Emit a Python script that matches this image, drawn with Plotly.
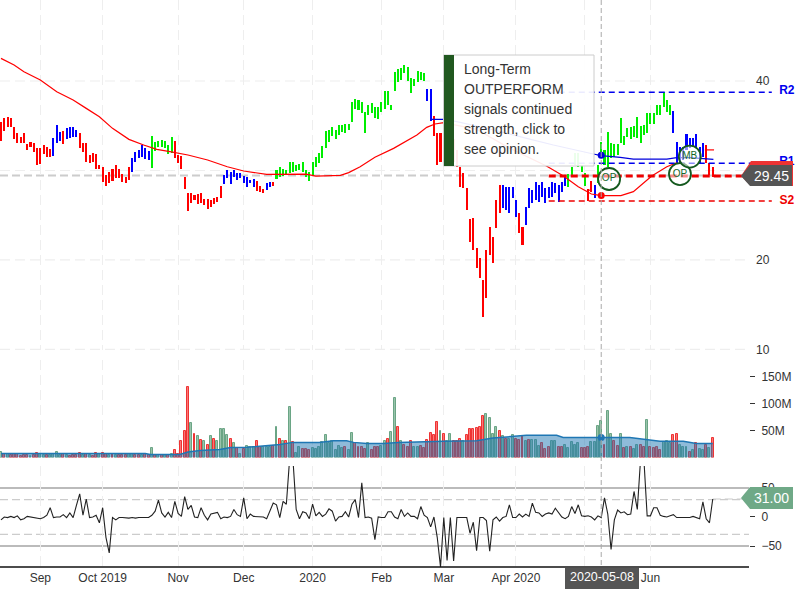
import plotly.graph_objects as go

# --- price bars (one per session, in dollars)
price_high = [
35.45,35.83,36.0,35.83,34.82,34.15,33.7,34.15,32.96,33.2,
33.03,32.47,32.47,32.85,32.66,32.36,33.59,35.08,34.34,34.41,
34.71,34.82,34.82,34.52,34.15,33.03,33.03,31.73,31.92,31.84,
30.61,30.43,29.5,29.87,30.13,30.61,30.13,29.6,29.31,30.35,
31.36,32.1,32.29,32.85,32.47,32.18,33.85,33.2,33.33,33.41,
33.33,32.85,33.78,33.29,31.73,31.62,29.23,27.45,27.45,27.26,
27.37,27.52,26.81,26.81,26.7,26.89,27.07,28.27,29.5,30.05,
29.87,30.05,29.68,29.68,29.38,29.31,28.94,29.01,28.82,28.27,
27.89,28.56,28.75,28.75,
30.05,30.43,30.17,30.05,30.91,30.91,30.61,30.72,30.91,30.05,
29.87,30.98,31.47,31.92,32.77,34.45,34.52,34.89,34.52,35.08,
35.08,35.19,35.19,37.69,37.99,37.87,37.69,36.57,37.32,37.5,
37.05,37.05,37.69,38.92,38.92,37.32,41.04,41.3,41.41,41.78,
41.52,40.29,40.18,41.15,41.04,40.93,
39.07,39.07,
36.09,34.15,34.22,34.15,34.15,35.27,33.5,32.29,30.42,29.76,28.0,
24.58,24.65,21.3,20.18,17.76,21.12,23.72,22.61,26.7,28.38,
28.38,28.19,28.19,28.19,26.7,
25.21,23.72,
25.96,28.0,27.82,28.75,28.38,28.75,28.0,28.19,28.75,28.56,28.38,28.75,29.5,
29.6,30.42,31.9,31.9,30.61,29.68,
27.89,28.86,
28.38,
30.61,33.2,32.29,34.34,33.03,32.92,32.92,35.9,33.85,34.71,34.89,34.97,36.01,
34.97,35.08,36.38,36.38,36.38,37.32,37.32,38.8,37.87,37.32,
36.68,33.2,32.66,32.66,34.07,33.59,33.59,34.07,32.66,33.03,
32.85,30.8,30.42]
price_low = [
33.33,34.41,34.82,34.82,33.52,33.03,33.03,33.03,32.29,32.66,
32.1,30.61,30.72,31.84,31.47,31.47,31.62,33.03,33.33,32.92,
33.48,33.59,33.78,33.7,32.47,32.1,30.98,30.8,30.98,30.13,
30.13,28.75,28.3,28.56,28.86,29.12,29.12,28.75,28.56,28.94,
29.79,30.98,31.36,31.47,31.24,31.17,30.24,32.18,32.59,32.66,
32.55,31.84,31.92,31.36,30.8,30.13,27.89,25.51,26.33,26.7,
26.26,26.4,26.14,25.66,25.88,26.26,26.52,26.96,28.45,29.12,
28.45,29.31,28.94,29.12,28.64,28.12,28.56,28.19,27.75,27.56,
27.52,27.82,28.1,28.27,
29.0,29.31,29.38,29.5,29.68,29.87,29.98,30.05,29.87,29.31,
28.86,29.38,30.35,30.8,31.36,32.47,33.2,33.85,33.52,33.96,
34.34,34.15,34.52,35.45,36.83,36.76,36.38,34.22,36.2,36.38,
35.83,35.71,36.57,36.83,37.32,36.76,38.92,39.92,40.1,40.93,
40.03,38.69,39.44,39.92,40.1,40.03,
37.8,35.57,
33.85,30.61,30.98,31.54,31.84,32.1,31.0,30.42,28.12,28.0,25.58,
22.05,21.12,19.07,17.95,13.67,15.7,20.56,19.7,23.54,25.21,
25.77,25.58,25.21,26.89,24.84,
22.98,21.67,
23.91,25.77,26.33,26.7,26.52,27.07,26.4,26.89,27.07,27.45,26.52,27.63,28.27,
28.12,29.31,30.6,30.42,29.87,28.27,
26.62,27.63,
26.89,
28.56,31.54,30.61,30.42,31.36,31.47,31.73,33.03,32.85,33.7,33.48,33.7,33.59,
33.11,33.96,34.15,35.19,35.19,36.2,36.2,37.13,36.57,36.2,
34.22,30.8,30.8,31.17,32.29,32.47,32.66,32.47,30.8,31.54,
30.8,29.5,29.31]
# signal state of each bar as (state, number of consecutive bars)
price_state_runs = [("R",16),("B",3),("R",1),("B",4),("R",16),("B",6),("G",7),("R",15),
                    ("B",10),("R",3),("B",2),("R",1),("G",46),("B",2),("R",21),("B",5),
                    ("R",2),("B",13),("G",6),("R",2),("B",1),("G",23),("B",10),("R",3)]
# the two short horizontal stops near the crosshair and the last bars
stop_idx = [178.7, 180.2, None, 214.6, 217.4]
stop_price = [27.8, 27.8, None, 32.3, 32.3]

# --- volume in millions of shares
volume = [
11,6,6,4,6,6,2,4,4,2,4,9,6,4,4,5,6,11,5,6,5,2,4,4,9,4,7,4,2,9,6,9,6,5,6,4,4,4,4,6,
6,4,4,5,6,4,17,4,4,4,5,5,7,13,7,30,50,131,63,43,39,33,31,24,39,35,31,52,52,41,
35,26,17,6,15,22,19,19,30,19,20,20,20,22,56,35,31,31,93,28,9,19,15,15,13,17,15,19,29,41,
26,31,13,22,17,19,13,46,26,19,19,15,26,13,20,19,22,30,35,48,111,57,
31,24,20,30,19,20,22,17,33,46,41,65,50,44,31,43,31,31,35,31,
41,52,52,54,57,76,81,74,44,56,50,39,35,35,41,35,33,39,31,33,
33,33,21,26,15,20,31,30,19,19,24,17,28,24,26,17,17,20,28,28,
59,67,24,87,44,30,22,44,17,19,20,15,24,24,19,70,19,17,19,13,
28,30,26,41,43,24,19,19,11,13,26,15,13,24,17,37]
volume_dir = ("GRGRRRRRRG" "RRGGRGGGGR" "GRRRRGRGRR" "GRRGRGRRRG" "GRRGRRGRGR"
              "GRGRRRRRGR" "GRGRGRGGGG" "RGRGRGGGRR" "GGGRGRGRGR" "GGRRRGGGGG"
              "GGGGGRGGRR" "RRGRRRGGRG" "GR"
              "GRRRGGRRRR" "RRGRGGRRRG" "RRRRRRGGGG" "RGRGGRRRGR" "GGGRRRGGRR"
              "GGGGGRRRGG" "GGRGGRRGRG" "RGGRRGRRRR" "GGGRRGGGRG" "RGGRGR")
volume_avg_idx = [0,44,45.5,54.5,57,60.7,66.7,70,75,80,85,89,97,101.3,105.4,107.5,111.5,116.6,121.2,
                  134.8,145,150,160.2,169.4,171.4,191.7,194.8,200.9,208,212,217]
volume_avg = [7.4,7.4,5.5,5.5,10,13,15,18.5,19,21.6,24,28,28,31,31,28,26,26,28,
              30,31,36,41,41,37,37,35,30,30,26,26]

# --- oscillator
oscillator = [
-5,0,-1,1,-1,2,-5,-3,1,0,-1,-1,-3,-1,3,16,-1,0,0,4,
-1,7,-1,20,40,3,31,-1,0,3,-10,16,-35,-62,-1,-5,-1,-1,-2,-2,
-1,-2,-1,-1,-2,-1,3,10,29,7,0,8,-1,27,6,1,35,13,20,0,
-1,16,3,-5,5,7,8,-3,0,-1,1,13,4,1,33,-3,5,1,1,1,
0,-3,10,24,21,-1,27,22,100,100,13,-3,9,7,-3,22,2,8,1,5,
14,10,-7,0,1,9,0,22,30,-1,59,-1,0,-2,-39,0,-1,-1,9,9,0,-3,
13,1,7,1,1,-3,18,3,-1,-17,0,-35,-86,-1,-75,-1,-76,-1,-1,-1,
-1,-28,-9,-58,-1,-1,-6,-59,-5,0,-7,-1,1,21,-1,-1,5,0,5,1,
24,8,7,1,5,7,5,15,7,0,-3,1,18,6,21,2,1,2,0,-5,
2,-1,33,5,-56,-5,12,7,9,4,5,44,13,100,100,2,2,16,16,3,
1,0,2,4,-1,-1,-1,-1,-1,1,-1,-3,26,-3,-10,31]

# --- moving averages (bar index, price)
ma_red_idx = [0,4,7,12,17,22,26,30,34,39,43.5,47.5,51.5,57,63,69,74,81,93,96,103.5,106,109.5,114,
              119.7,126.8,129.8,132.3,135,145,155,166.3,171.5,176,180,183,189,192.8,198.4,203,206]
ma_red = [42.53,41.78,41.04,40.11,38.8,37.87,36.94,36.01,34.71,33.48,32.85,32.36,32.1,31.73,31.17,
          30.42,29.94,29.57,29.6,29.38,29.46,29.76,30.42,31.47,32.47,33.96,34.82,35.19,35.34,
          34.6,32.5,30.5,29.38,28.19,27.37,27.19,27.19,27.63,29.38,30.42,30.87]
ma_blue_idx = [131.3,135,139,150.2,160.3,168.4,180.6,183,188.8,192.8,203,206,210.1,217.2]
ma_blue = [35.71,35.71,35.45,34.52,33.59,32.85,31.84,31.65,31.47,31.28,31.28,31.43,31.43,31.25]

# --- levels, signals, labels
level_r2, level_r1, level_s1, level_s2 = 38.73, 30.8, 29.38, 26.59
last_price, last_osc = 29.45, 31.0
signal_idx = [185.4, 207, 210]
signal_price = [29.05, 29.6, 31.55]
signal_text = ["OP", "OP", "MB"]
month_idx = [12, 31, 54, 74, 95, 116, 135, 157, 178, 198]
month_text = ["Sep", "Oct 2019", "Nov", "Dec", "2020", "Feb", "Mar", "Apr 2020", "", "Jun"]
volume_ticks = [50, 100, 150]
volume_tick_text = ["50M", "100M", "150M"]
cross_idx = 183
tip_lines = ["Long-Term", "OUTPERFORM", "signals continued", "strength, click to", "see opinion."]

FONT = "Liberation Sans"
W, H = 800.0, 600.0
def px(x): return x / W
def py(y): return 1 - y / H
def poly(points):
    return "M" + " L".join(f"{px(a):.5f},{py(b):.5f}" for a, b in points) + " Z"

state_colors = {"R": "#ff0000", "B": "#0000ff", "G": "#00ee00"}
price_colors = [state_colors[s] for s, n in price_state_runs for _ in range(n)]
idx = list(range(len(price_high)))

fig = go.Figure()

# price bars
fig.add_trace(go.Bar(x=idx, base=price_low, y=[h - l for h, l in zip(price_high, price_low)],
                     width=0.62, marker=dict(color=price_colors, line_width=0),
                     yaxis="y", xaxis="x"))
fig.add_trace(go.Scatter(x=stop_idx, y=stop_price, mode="lines", line=dict(color="#ff0000", width=1.2), yaxis="y"))
fig.add_trace(go.Scatter(x=ma_red_idx, y=ma_red, mode="lines", line=dict(color="#ff0000", width=1.2), yaxis="y"))
fig.add_trace(go.Scatter(x=ma_blue_idx, y=ma_blue, mode="lines", line=dict(color="#0000dd", width=1.2), yaxis="y"))

# levels
for val, end, color, width, dash in [(level_r2, 235, "#0000ee", 1.5, "6px,4px"),
                                     (level_r1, 235, "#0000ee", 1.5, "6px,4px"),
                                     (level_s1, 226, "#ee0000", 3, "7px,4px"),
                                     (level_s2, 235, "#ee0000", 1.5, "6px,4px")]:
    fig.add_trace(go.Scatter(x=[167, end], y=[val, val], mode="lines",
                             line=dict(color=color, width=width, dash=dash), yaxis="y"))
fig.add_trace(go.Scatter(x=[239.6, 239.6], y=[38.83, 30.95], mode="text", text=["R2", "R1"],
                         textfont=dict(color="#0000ee", size=12, family=FONT, weight="bold"),
                         yaxis="y", cliponaxis=False))
fig.add_trace(go.Scatter(x=[239.6], y=[26.6], mode="text", text=["S2"],
                         textfont=dict(color="#ee0000", size=12, family=FONT, weight="bold"),
                         yaxis="y", cliponaxis=False))

# signals
fig.add_trace(go.Scatter(x=signal_idx, y=signal_price, mode="markers+text", text=signal_text,
                         textposition="middle center", textfont=dict(color="#14682a", size=10, family=FONT),
                         marker=dict(size=22, color="rgba(255,255,255,0.55)", line=dict(color="#14591e", width=1.8)),
                         yaxis="y"))
fig.add_trace(go.Scatter(x=[cross_idx, cross_idx], y=[31.7, 27.2], mode="markers",
                         marker=dict(size=7, color=["#0000dd", "#ff0000"]), yaxis="y"))

# volume
vol_fill = {"R": "rgba(250,60,60,0.7)", "G": "rgba(110,170,135,0.7)"}
vol_line = {"R": "#ee3333", "G": "#6aa585"}
fig.add_trace(go.Bar(x=list(range(len(volume))), y=volume, width=0.6, yaxis="y2",
                     marker=dict(color=[vol_fill[d] for d in volume_dir],
                                 line=dict(color=[vol_line[d] for d in volume_dir], width=1))))
fig.add_trace(go.Scatter(x=volume_avg_idx, y=volume_avg, mode="lines", fill="tozeroy",
                         fillcolor="rgba(31,119,180,0.5)", line=dict(color="#1f77b4", width=1.5), yaxis="y2"))
fig.add_trace(go.Scatter(x=[cross_idx], y=[37], mode="markers", marker=dict(size=7, color="#1f77b4"), yaxis="y2"))

# oscillator
fig.add_trace(go.Scatter(x=list(range(len(oscillator))), y=oscillator, mode="lines",
                         line=dict(color="#222222", width=1.1), yaxis="y3"))

shapes = []
def hline(yref, val, color, width, dash, x1=749):
    shapes.append(dict(type="line", xref="paper", yref=yref, x0=0, x1=px(x1), y0=val, y1=val,
                       line=dict(color=color, width=width, dash=dash), layer="below"))
for v in (10, 20, 30, 40):
    hline("y", v, "#eeeeee", 1.2, "10px,5px")
hline("y", last_price, "#cccccc", 2, "8px,4px", 745)
hline("y3", 50, "#bbbbbb", 2, "solid")
hline("y3", -50, "#bbbbbb", 2, "solid")
hline("y3", 30, "#cccccc", 1.2, "8px,4px", 745)
hline("y3", -30, "#cccccc", 1.2, "8px,4px")
# x axis line
shapes.append(dict(type="line", xref="paper", yref="paper", x0=0, x1=px(749), y0=py(567), y1=py(567),
                   line=dict(color="#111111", width=1.5), layer="above"))
# crosshair
shapes.append(dict(type="line", xref="x", yref="paper", x0=cross_idx, x1=cross_idx, y0=py(0), y1=py(570),
                   line=dict(color="#aaaaaa", width=1, dash="5px,3px"), layer="above"))
# opinion pop-up
shapes.append(dict(type="rect", xref="paper", yref="paper", x0=px(443.5), x1=px(594), y0=py(55), y1=py(166),
                   fillcolor="rgba(255,255,255,0.92)", line=dict(color="#cccccc", width=1), layer="above"))
shapes.append(dict(type="rect", xref="paper", yref="paper", x0=px(444), x1=px(454), y0=py(55), y1=py(166),
                   fillcolor="rgba(26,83,25,0.97)", line_width=0, layer="above"))
# value tags
shapes.append(dict(type="path", xref="paper", yref="paper", layer="above", fillcolor="#ee3333", line_width=0,
                   path=poly([(741, 176), (751, 161), (793, 161), (793, 186), (751, 186)])))
shapes.append(dict(type="path", xref="paper", yref="paper", layer="above", fillcolor="#555555", line_width=0,
                   path=poly([(741, 176), (750, 165), (792, 165), (792, 186), (750, 186)])))
shapes.append(dict(type="path", xref="paper", yref="paper", layer="above", fillcolor="#6fa987", line_width=0,
                   path=poly([(741, 498), (750, 487), (793, 487), (793, 509), (750, 509)])))
shapes.append(dict(type="line", xref="x", yref="y3", x0=217, x1=229, y0=last_osc, y1=last_osc, layer="below",
                   line=dict(color="#cccccc", width=1.2, dash="8px,4px")))
# crosshair date box
shapes.append(dict(type="rect", xref="paper", yref="paper", x0=px(565), x1=px(639), y0=py(568), y1=py(589),
                   fillcolor="#555555", line_width=0, layer="above"))

annotations = []
for i, line in enumerate(tip_lines):
    annotations.append(dict(xref="paper", yref="paper", x=px(462), y=py(69 + 20 * i), text=line, showarrow=False,
                            xanchor="left", yanchor="middle", font=dict(family=FONT, size=14, color="#333333")))
annotations.append(dict(xref="paper", yref="paper", x=px(771), y=py(175.5), text=f"{last_price:.2f}", showarrow=False,
                        xanchor="center", yanchor="middle", font=dict(family=FONT, size=14, color="#ffffff")))
annotations.append(dict(xref="paper", yref="paper", x=px(771), y=py(498), text=f"{last_osc:.2f}", showarrow=False,
                        xanchor="center", yanchor="middle", font=dict(family=FONT, size=14, color="#ffffff")))
annotations.append(dict(xref="paper", yref="paper", x=px(602), y=py(577), text="2020-05-08", showarrow=False,
                        xanchor="center", yanchor="middle", font=dict(family=FONT, size=12.5, color="#ffffff")))

tickfont = dict(family=FONT, size=12, color="#333333")
common_y = dict(anchor="free", side="right", position=749 / 800, showgrid=False, zeroline=False,
                showline=False, tickfont=tickfont)
fig.update_layout(
    width=800, height=600, autosize=False, margin=dict(l=0, r=0, t=0, b=0, pad=0, autoexpand=False),
    paper_bgcolor="#ffffff", plot_bgcolor="#ffffff", showlegend=False, hovermode=False,
    barmode="overlay", bargap=0,
    font=dict(family=FONT, size=12, color="#333333"),
    shapes=shapes, annotations=annotations,
    xaxis=dict(domain=[0, 1], range=[-0.3, 243.6], anchor="y3", tickmode="array", tickvals=month_idx,
               ticktext=month_text, showgrid=True, gridcolor="#eeeeee", griddash="10px,5px", gridwidth=1.2,
               ticks="", zeroline=False, showline=False, tickfont=tickfont, ticklabelstandoff=2),
    yaxis=dict(domain=[py(350), py(0)], range=[9.94, 49.05], tickvals=[10, 20, 30, 40], ticks="",
               ticklabelstandoff=6, **common_y),
    yaxis2=dict(domain=[py(457.5), py(360)], range=[0, 180.6], tickmode="array", tickvals=volume_ticks,
                ticktext=volume_tick_text, ticks="outside", ticklen=5, tickcolor="#333333", ticklabelstandoff=4,
                **common_y),
    yaxis3=dict(domain=[py(567), py(466)], range=[-86.2, 87.9], tickvals=[-50, 0, 50],
                ticks="outside", ticklen=5, tickcolor="#333333", ticklabelstandoff=4,
                **common_y),
)

fig.write_html("out.html", config={"displayModeBar": False},
               post_script="document.body.style.margin='0';document.body.style.overflow='hidden';")
